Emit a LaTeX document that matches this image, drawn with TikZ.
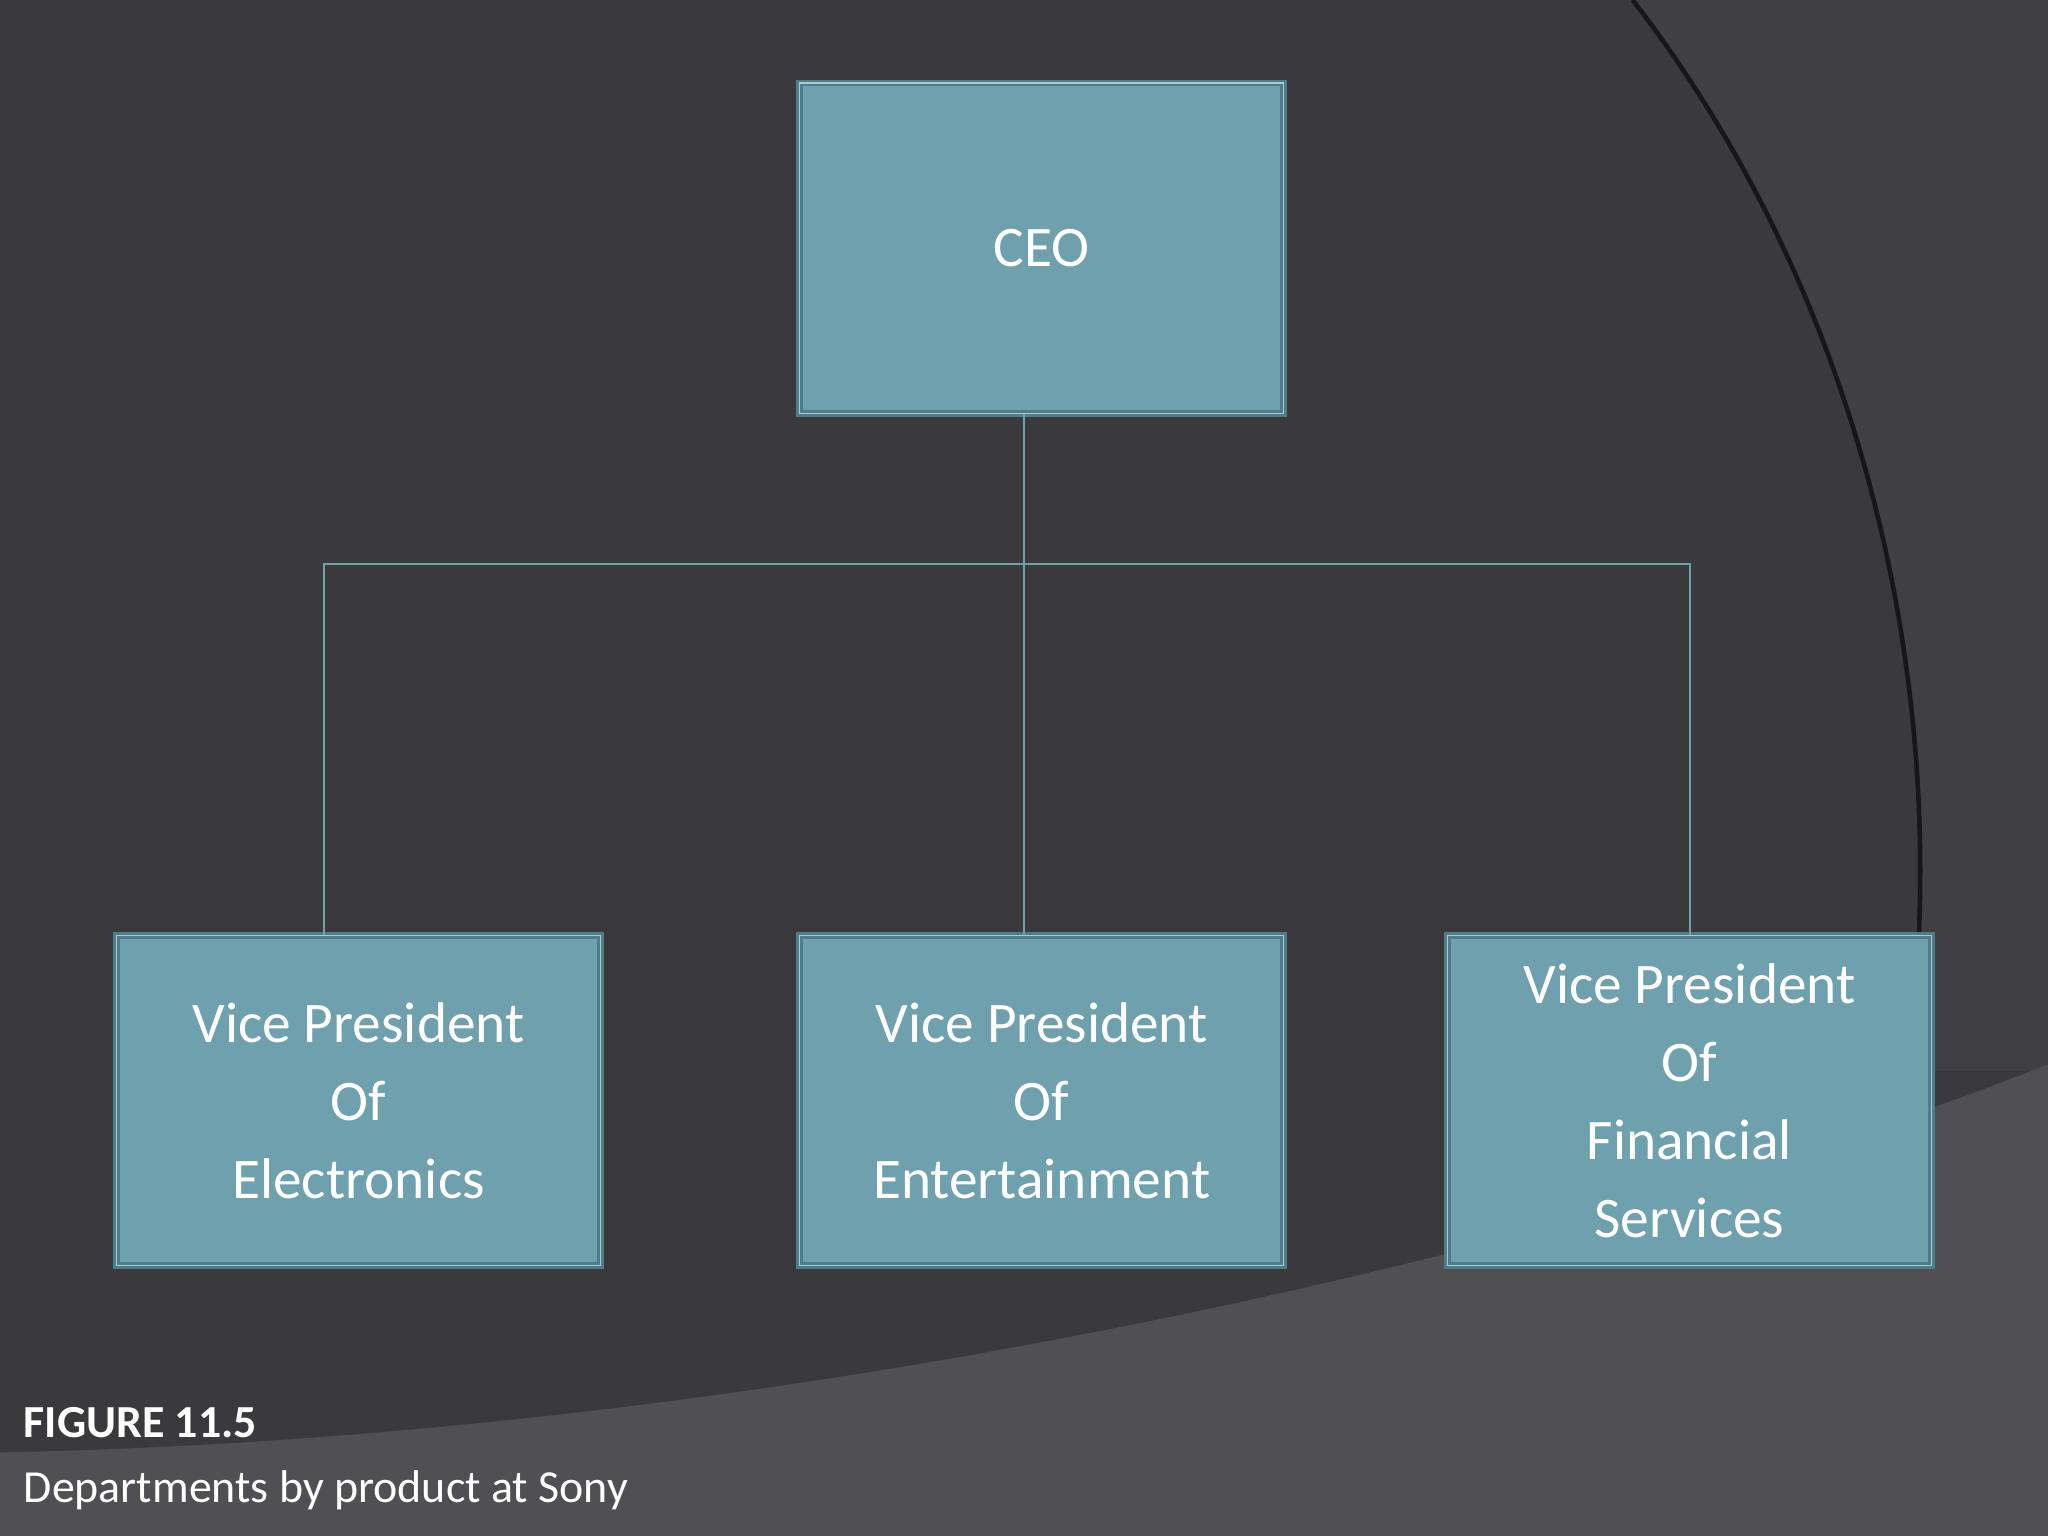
\documentclass[tikz,border=0pt]{standalone}
\usepackage{fontspec}
\setmainfont{Carlito}
\definecolor{bg}{HTML}{3A393B}
\definecolor{bgb}{HTML}{504F51}
\definecolor{bgr}{HTML}{403F41}
\definecolor{boxf}{HTML}{6FA0AE}
\definecolor{boxd}{HTML}{4E7D8A}
\definecolor{boxl}{HTML}{A9CBD4}
\tikzset{
 orgbox/.style={draw=boxd,line width=3pt,fill=boxf,minimum width=7.42cm,minimum height=5.06cm,inner sep=0pt,text=white,font=\fontsize{25}{30}\selectfont,align=center,
  postaction={draw=boxl,line width=0.5pt,shorten >=0pt}},
 link/.style={draw=boxf,line width=1pt}
}
\begin{document}
\begin{tikzpicture}[x=0.02cm,y=-0.02cm]
\useasboundingbox (0,0) rectangle (1568,1176);
\fill[bg] (0,0) rectangle (1568,1176);
\fill[bgr] (1250,0) .. controls (1420,220) and (1500,520) .. (1460,820) -- (1568,820) -- (1568,0) -- cycle;
\fill[bgb] (0,1112) .. controls (600,1100) and (1200,960) .. (1568,815) -- (1568,1176) -- (0,1176) -- cycle;
\draw[black!60!bg,line width=2pt] (1250,0) .. controls (1420,220) and (1500,520) .. (1460,820);
\node[orgbox] (ceo) at (797.5,190) {CEO};
\node[orgbox] (el) at (274.5,842.5) {Vice President\\[4pt]Of\\[4pt]Electronics};
\node[orgbox] (en) at (797.5,842.5) {Vice President\\[4pt]Of\\[4pt]Entertainment};
\node[orgbox] (fi) at (1293.5,842.5) {Vice President\\[4pt]Of\\[4pt]Financial\\[4pt]Services};
\coordinate (j) at (784,432);
\draw[link] (784,317) -- (j);
\draw[link] (248,716) |- (j) -| (1294,716);
\draw[link] (j) -- (784,716);
\node[anchor=west,text=white,font=\fontsize{20}{24}\selectfont\bfseries] (fig) at (12,1089) {FIGURE 11.5};
\node[anchor=west,text=white,font=\fontsize{20}{24}\selectfont] (cap) at (12,1141) {Departments by product at Sony};
\end{tikzpicture}
\end{document}
